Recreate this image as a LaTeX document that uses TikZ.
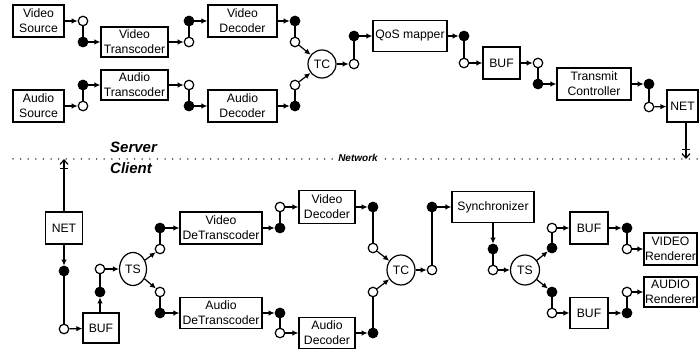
\documentclass[tikz,border=0pt]{standalone}
\usepackage{fontspec}
\setmainfont{Liberation Sans}
\usetikzlibrary{arrows.meta,shapes.geometric}

\begin{document}
\begin{tikzpicture}[x=1pt,y=-1pt]
\tikzstyle{block}=[rectangle, draw, line width=1.2pt, inner sep=0pt, align=center, font=\fontsize{12.2}{15}\selectfont]
\tikzstyle{mux}=[ellipse, draw, line width=1.2pt, inner sep=0pt, font=\fontsize{12.2}{15}\selectfont]
\tikzstyle{porto}=[circle, draw, fill=white, line width=1.2pt, minimum size=9.5pt, inner sep=0pt]
\tikzstyle{portf}=[circle, draw, fill=black, line width=1.2pt, minimum size=9.5pt, inner sep=0pt]
\tikzstyle{flow}=[line width=1.2pt, -{Latex[length=6pt,width=5.5pt]}]
\tikzstyle{link}=[line width=1.2pt]
\tikzstyle{netflow}=[line width=1.2pt, -{Bar[width=8pt,sep=3pt]Straight Barb[length=4.5pt,width=8pt]}]
\tikzstyle{side}=[anchor=west, inner sep=0pt, font=\bfseries\itshape\fontsize{15}{18}\selectfont]

\useasboundingbox (0,0) rectangle (699,350);

% server side, video branch
\node[block, minimum width=51, minimum height=32] (vsrc) at (38.5,21) {Video\\Source};
\node[porto] (vsrco) at (83,21) {};
\node[portf] (vtri) at (83,42) {};
\node[block, minimum width=67, minimum height=30] (vtr) at (134.5,42) {Video\\Transcoder};
\node[porto] (vtro) at (189,42) {};
\node[portf] (vdeci) at (189,21) {};
\node[block, minimum width=69, minimum height=32] (vdec) at (242.5,21) {Video\\Decoder};
\node[portf] (vdeco) at (295,21) {};
\node[porto] (tcvi) at (295,42) {};

% server side, audio branch
\node[block, minimum width=51, minimum height=32] (asrc) at (38.5,106) {Audio\\Source};
\node[porto] (asrco) at (83,106) {};
\node[portf] (atri) at (83,85) {};
\node[block, minimum width=67, minimum height=30] (atr) at (134.5,85) {Audio\\Transcoder};
\node[porto] (atro) at (189,85) {};
\node[portf] (adeci) at (189,106) {};
\node[block, minimum width=69, minimum height=32] (adec) at (242.5,106) {Audio\\Decoder};
\node[portf] (adeco) at (295,106) {};
\node[porto] (tcai) at (295,85) {};

% server side, after the TC
\node[mux, minimum width=28, minimum height=28] (tc) at (322,64) {TC};
\node[porto] (tco) at (354,64) {};
\node[portf] (qosi) at (354,36) {};
\node[block, minimum width=74, minimum height=31] (qos) at (410,36) {QoS mapper};
\node[portf] (qoso) at (464,36) {};
\node[porto] (bufi) at (464,63) {};
\node[block, minimum width=37, minimum height=32] (buf) at (501.5,63) {BUF};
\node[porto] (bufo) at (538,63) {};
\node[portf] (txi) at (538,84) {};
\node[block, minimum width=74, minimum height=32] (tx) at (594,84) {Transmit\\Controller};
\node[portf] (txo) at (649,84) {};
\node[porto] (neti) at (649,107) {};
\node[block, minimum width=31, minimum height=32] (net) at (682.5,106) {NET};

% client side, receive and split
\node[block, minimum width=37, minimum height=32] (cnet) at (64,228) {NET};
\node[portf] (cneto) at (64,271) {};
\node[porto] (cbufi) at (64,329) {};
\node[block, minimum width=36, minimum height=30] (cbuf) at (101,328) {BUF};
\node[portf] (cbufo) at (100,292) {};
\node[porto] (tsi) at (100,269) {};
\node[mux, minimum width=27, minimum height=33] (ts) at (133,269) {TS};

% client side, video branch
\node[porto] (tsvo) at (160,249) {};
\node[portf] (vdti) at (160,228) {};
\node[block, minimum width=82, minimum height=32] (vdt) at (221,228) {Video\\DeTranscoder};
\node[portf] (vdto) at (280,228) {};
\node[porto] (cvdeci) at (280,207) {};
\node[block, minimum width=56, minimum height=33] (cvdec) at (327,207) {Video\\Decoder};
\node[portf] (cvdeco) at (373,207) {};
\node[porto] (ctcvi) at (373,248) {};

% client side, audio branch
\node[porto] (tsao) at (160,292) {};
\node[portf] (adti) at (160,313) {};
\node[block, minimum width=82, minimum height=31] (adt) at (221,313) {Audio\\DeTranscoder};
\node[portf] (adto) at (280,313) {};
\node[porto] (cadeci) at (280,333) {};
\node[block, minimum width=56, minimum height=31] (cadec) at (327,333) {Audio\\Decoder};
\node[portf] (cadeco) at (373,333) {};
\node[porto] (ctcai) at (373,292) {};

% client side, sync and render
\node[mux, minimum width=28, minimum height=30] (ctc) at (401,270) {TC};
\node[porto] (ctco) at (432,270) {};
\node[portf] (synci) at (432,207) {};
\node[block, minimum width=82, minimum height=31] (sync) at (493,207) {Synchronizer};
\node[portf] (synco) at (493,249) {};
\node[porto] (ctsi) at (493,270) {};
\node[mux, minimum width=29, minimum height=30] (cts) at (525,270) {TS};
\node[portf] (ctsvo) at (552,248) {};
\node[porto] (vbufi) at (552,228) {};
\node[block, minimum width=38, minimum height=32] (vbuf) at (589,228) {BUF};
\node[portf] (vbufo) at (627,228) {};
\node[porto] (vreni) at (627,249) {};
\node[block, minimum width=53, minimum height=32] (vren) at (670.5,249) {VIDEO\\Renderer};
\node[portf] (ctsao) at (552,292) {};
\node[porto] (abufi) at (552,313) {};
\node[block, minimum width=38, minimum height=31] (abuf) at (589,313) {BUF};
\node[portf] (abufo) at (627,313) {};
\node[porto] (areni) at (627,292) {};
\node[block, minimum width=53, minimum height=30] (aren) at (670.5,292) {AUDIO\\Renderer};

% network divider
\draw[line width=1.5pt, line cap=round, dash pattern=on 0pt off 7.6pt] (13,159) -- (697,159);
\node[fill=white, inner sep=1.5pt, font=\bfseries\itshape\fontsize{10}{12}\selectfont] (nwlbl) at (358,158) {Network};
\node[side] (srv) at (110,147) {Server};
\node[side] (cli) at (110,168) {Client};
\coordinate (srvin) at (686,159);
\coordinate (cliout) at (64,159);

% server connectors
\draw[flow] (vsrc) -- (vsrco);
\draw[link] (vsrco) -- (vtri);
\draw[flow] (vtri) -- (vtr);
\draw[flow] (vtr) -- (vtro);
\draw[link] (vtro) -- (vdeci);
\draw[flow] (vdeci) -- (vdec);
\draw[flow] (vdec) -- (vdeco);
\draw[link] (vdeco) -- (tcvi);
\draw[flow] (tcvi) -- (tc);
\draw[flow] (asrc) -- (asrco);
\draw[link] (asrco) -- (atri);
\draw[flow] (atri) -- (atr);
\draw[flow] (atr) -- (atro);
\draw[link] (atro) -- (adeci);
\draw[flow] (adeci) -- (adec);
\draw[flow] (adec) -- (adeco);
\draw[link] (adeco) -- (tcai);
\draw[flow] (tcai) -- (tc);
\draw[flow] (tc) -- (tco);
\draw[link] (tco) -- (qosi);
\draw[flow] (qosi) -- (qos);
\draw[flow] (qos) -- (qoso);
\draw[link] (qoso) -- (bufi);
\draw[flow] (bufi) -- (buf);
\draw[flow] (buf) -- (bufo);
\draw[link] (bufo) -- (txi);
\draw[flow] (txi) -- (tx);
\draw[flow] (tx) -- (txo);
\draw[link] (txo) -- (neti);
\draw[flow] (neti) -- (net);
\draw[netflow] (net.south -| srvin) -- (srvin);

% client connectors
\draw[netflow] (cnet) -- (cliout);
\draw[flow] (cnet) -- (cneto);
\draw[link] (cneto) -- (cbufi);
\draw[flow] (cbufi) -- (cbuf);
\draw[flow] (cbuf.north -| cbufo) -- (cbufo);
\draw[link] (cbufo) -- (tsi);
\draw[flow] (tsi) -- (ts);
\draw[flow] (ts) -- (tsvo);
\draw[link] (tsvo) -- (vdti);
\draw[flow] (vdti) -- (vdt);
\draw[flow] (vdt) -- (vdto);
\draw[link] (vdto) -- (cvdeci);
\draw[flow] (cvdeci) -- (cvdec);
\draw[flow] (cvdec) -- (cvdeco);
\draw[link] (cvdeco) -- (ctcvi);
\draw[flow] (ctcvi) -- (ctc);
\draw[flow] (ts) -- (tsao);
\draw[link] (tsao) -- (adti);
\draw[flow] (adti) -- (adt);
\draw[flow] (adt) -- (adto);
\draw[link] (adto) -- (cadeci);
\draw[flow] (cadeci) -- (cadec);
\draw[flow] (cadec) -- (cadeco);
\draw[link] (cadeco) -- (ctcai);
\draw[flow] (ctcai) -- (ctc);
\draw[flow] (ctc) -- (ctco);
\draw[link] (ctco) -- (synci);
\draw[flow] (synci) -- (sync);
\draw[flow] (sync) -- (synco);
\draw[link] (synco) -- (ctsi);
\draw[flow] (ctsi) -- (cts);
\draw[flow] (cts) -- (ctsvo);
\draw[link] (ctsvo) -- (vbufi);
\draw[flow] (vbufi) -- (vbuf);
\draw[flow] (vbuf) -- (vbufo);
\draw[link] (vbufo) -- (vreni);
\draw[flow] (vreni) -- (vren);
\draw[flow] (cts) -- (ctsao);
\draw[link] (ctsao) -- (abufi);
\draw[flow] (abufi) -- (abuf);
\draw[flow] (abuf) -- (abufo);
\draw[link] (abufo) -- (areni);
\draw[flow] (areni) -- (aren);
\end{tikzpicture}
\end{document}
